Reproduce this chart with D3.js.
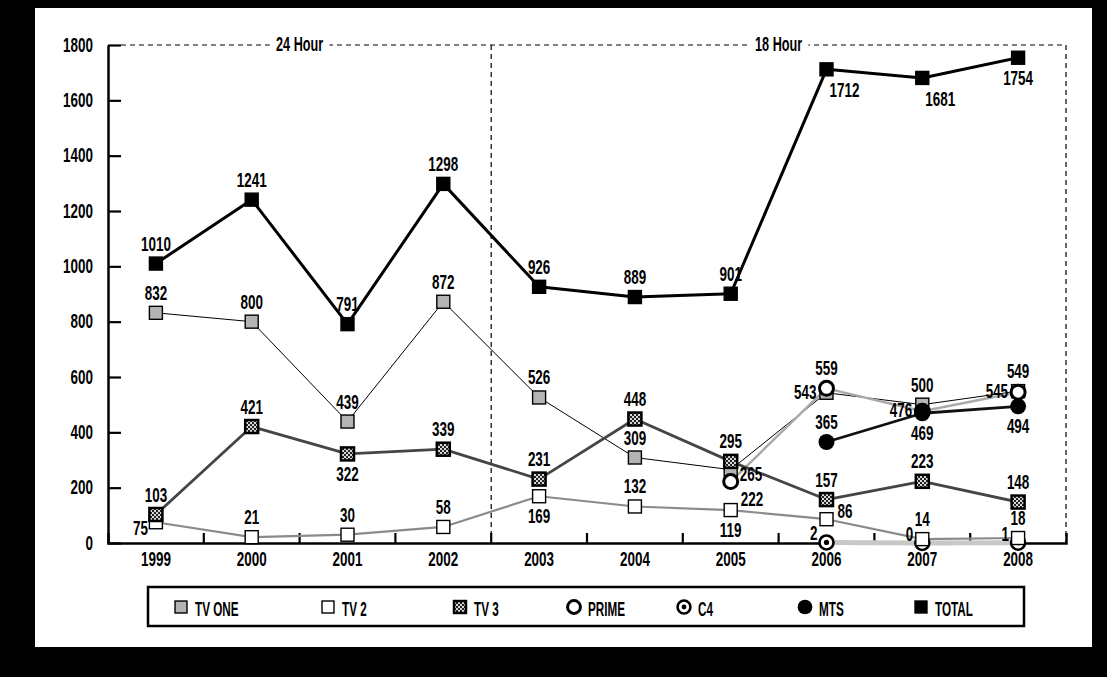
<!DOCTYPE html>
<html>
<head>
<meta charset="utf-8">
<script src="https://cdn.jsdelivr.net/npm/d3@7"></script>
<style>
  body { margin: 0; background: #000; }
  text { font-family: "Liberation Sans", Arial, sans-serif; font-weight: bold; }
</style>
</head>
<body>
<svg id="chart" width="1107" height="677"></svg>
<script>
// ---- Data
const years = ['1999', '2000', '2001', '2002', '2003', '2004', '2005', '2006', '2007', '2008'];
const tvOne = [832, 800, 439, 872, 526, 309, 265, 543, 500, 549];
const tv2 = [75, 21, 30, 58, 169, 132, 119, 86, 14, 18];
const tv3 = [103, 421, 322, 339, 231, 448, 295, 157, 223, 148];
const prime = [null, null, null, null, null, null, 222, 559, 476, 545];
const c4 = [null, null, null, null, null, null, null, 2, 0, 1];
const mts = [null, null, null, null, null, null, null, 365, 469, 494];
const total = [1010, 1241, 791, 1298, 926, 889, 901, 1712, 1681, 1754];
const yTicks = [0, 200, 400, 600, 800, 1000, 1200, 1400, 1600, 1800];
const periodNames = ['24 Hour', '18 Hour'];
const periodStart = ['1999', '2003'];
const periodEnd = ['2002', '2008'];

// ---- where each value label sits relative to its marker
const placeTotal = ['t', 't', 't', 't', 't', 't', 't', 'br', 'br', 'b'];
const placeTvOne = ['t', 't', 't', 't', 't', 't', 'r', 'l', 't', 't'];
const placeTv2 = ['bl', 't', 't', 't', 'b', 't', 'b', 'tr', 't', 't'];
const placeTv3 = ['t', 't', 'b', 't', 't', 't', 't', 't', 't', 't'];
const placePrime = [null, null, null, null, null, null, 'rb', 't', 'l', 'l'];
const placeC4 = [null, null, null, null, null, null, null, 'lz', 'lz', 'lz'];
const placeMts = [null, null, null, null, null, null, null, 't', 'b', 'b'];

const offsets = {
    t:  { anchor: 'middle', dx: 0, dy: -13 },
    b:  { anchor: 'middle', dx: 0, dy: 27 },
    br: { anchor: 'start', dx: 3, dy: 28 },
    l:  { anchor: 'end', dx: -10, dy: 6 },
    bl: { anchor: 'end', dx: -8, dy: 13 },
    r:  { anchor: 'start', dx: 9, dy: 11 },
    rb: { anchor: 'start', dx: 10, dy: 24 },
    tr: { anchor: 'start', dx: 11, dy: -1 },
    lz: { anchor: 'end', dx: -9, dy: -2 }
};

// condensed look: squeeze the glyphs horizontally
const SX_NUM = 0.69;
const SX_TXT = 0.6;
const FS = 19.5;
const svg = d3.select('#chart');

function label(g, px, py, txt, anchor, sx) {
    return g.append('text')
        .attr('transform', `translate(${px},${py}) scale(${sx || SX_NUM},1)`)
        .attr('text-anchor', anchor || 'start')
        .attr('font-size', FS)
        .text(txt);
}

// ---- frame
svg.append('rect').attr('width', 1107).attr('height', 677).attr('fill', '#000');
svg.append('rect').attr('x', 35).attr('y', 8).attr('width', 1057).attr('height', 639).attr('fill', '#fff');

// checker pattern for TV 3
const defs = svg.append('defs');
const pat = defs.append('pattern').attr('id', 'checker')
    .attr('patternUnits', 'userSpaceOnUse').attr('width', 4).attr('height', 4);
pat.append('rect').attr('width', 4).attr('height', 4).attr('fill', '#222');
pat.append('rect').attr('width', 2).attr('height', 2).attr('fill', '#d8d8d8');
pat.append('rect').attr('x', 2).attr('y', 2).attr('width', 2).attr('height', 2).attr('fill', '#d8d8d8');

// ---- scales
const x = d3.scaleBand().domain(years).range([108, 1066]).padding(0);
const y = d3.scaleLinear().domain([0, 1800]).range([543, 45]);
const cx = d => x(d) + x.bandwidth() / 2;

// ---- period boxes (dashed)
const dash = '5,4';
const yTop = y(1800);
const pg = svg.append('g');
pg.append('line')
    .attr('x1', 121).attr('x2', x.range()[1])
    .attr('y1', yTop).attr('y2', yTop)
    .attr('stroke', '#000').attr('stroke-width', 1.2).attr('stroke-dasharray', dash);
periodEnd.forEach(e => {
    const xe = x(e) + x.bandwidth();
    pg.append('line')
        .attr('x1', xe).attr('x2', xe).attr('y1', yTop).attr('y2', y(0))
        .attr('stroke', '#000').attr('stroke-width', 1.2).attr('stroke-dasharray', dash);
});
periodNames.forEach((name, i) => {
    const mid = (x(periodStart[i]) + x(periodEnd[i]) + x.bandwidth()) / 2;
    const t = label(pg, mid, yTop + 6, name, 'middle', 0.65);
    const w = t.node().getBBox().width * 0.65;
    pg.insert('rect', 'text')
        .attr('x', mid - w / 2 - 6).attr('y', yTop - 8).attr('width', w + 12).attr('height', 16)
        .attr('fill', '#fff');
});

// ---- axes
const yAxis = d3.axisLeft(y).tickValues(yTicks).tickFormat(d3.format('d'))
    .tickSize(-13).tickSizeOuter(0).tickPadding(15);
const gy = svg.append('g').attr('transform', `translate(${x.range()[0]},0)`).call(yAxis);
gy.attr('font-family', null);
gy.select('.domain').attr('stroke-width', 2.5);
gy.selectAll('.tick line').attr('stroke-width', 2.2);
gy.selectAll('.tick text')
    .attr('font-size', FS).attr('fill', '#000')
    .attr('x', -15 / SX_NUM)
    .attr('transform', `scale(${SX_NUM},1)`);

const xAxis = d3.axisBottom(x).tickSize(0).tickSizeOuter(-10).tickPadding(9);
const gx = svg.append('g').attr('transform', `translate(0,${y(0)})`).call(xAxis);
gx.attr('font-family', null);
gx.select('.domain').attr('stroke-width', 2.5);
gx.selectAll('.tick text')
    .attr('font-size', FS).attr('fill', '#000')
    .attr('transform', `scale(${SX_NUM},1)`);
gx.selectAll('line.sep')
    .data(years.slice(0, -1))
    .join('line')
    .attr('class', 'sep')
    .attr('x1', d => x(d) + x.bandwidth()).attr('x2', d => x(d) + x.bandwidth())
    .attr('y1', 0).attr('y2', -10)
    .attr('stroke', '#000').attr('stroke-width', 2.2);

// ---- series styles (drawing order)
const series = [
    { name: 'C4', values: c4, place: placeC4, stroke: '#c8c8c8', width: 5, marker: 'bull' },
    { name: 'TV 2', values: tv2, place: placeTv2, stroke: '#8a8a8a', width: 2.2, marker: 'square', fill: '#fff' },
    { name: 'TV ONE', values: tvOne, place: placeTvOne, stroke: '#000', width: 1, marker: 'square', fill: '#b4b4b4' },
    { name: 'PRIME', values: prime, place: placePrime, stroke: '#aaaaaa', width: 2.5, marker: 'circle' },
    { name: 'TV 3', values: tv3, place: placeTv3, stroke: '#454545', width: 2.8, marker: 'checker' },
    { name: 'MTS', values: mts, place: placeMts, stroke: '#111', width: 2.8, marker: 'dot' },
    { name: 'TOTAL', values: total, place: placeTotal, stroke: '#000', width: 3, marker: 'black' }
];

function drawMarker(g, s, px, py, k) {
    k = k || 1;
    const kind = s.marker;
    if (kind === 'square' || kind === 'checker' || kind === 'black') {
        const w = 13 * k;
        const fill = kind === 'checker' ? 'url(#checker)' : kind === 'black' ? '#000' : s.fill;
        g.append('rect')
            .attr('x', px - w / 2).attr('y', py - w / 2).attr('width', w).attr('height', w)
            .attr('fill', fill)
            .attr('stroke', '#000').attr('stroke-width', kind === 'checker' ? 2.5 : 1.4);
    } else if (kind === 'circle') {
        g.append('circle').attr('cx', px).attr('cy', py).attr('r', 7 * k)
            .attr('fill', '#fff').attr('stroke', '#000').attr('stroke-width', 3);
    } else if (kind === 'bull') {
        g.append('circle').attr('cx', px).attr('cy', py).attr('r', 7 * k)
            .attr('fill', '#fff').attr('stroke', '#000').attr('stroke-width', 2.6);
        g.append('circle').attr('cx', px).attr('cy', py).attr('r', 2.6 * k).attr('fill', '#000');
    } else if (kind === 'dot') {
        g.append('circle').attr('cx', px).attr('cy', py).attr('r', 8 * k).attr('fill', '#000');
    }
}

// lines first
const line = d3.line()
    .defined(d => d.v !== null)
    .x(d => cx(d.year))
    .y(d => y(d.v));

series.forEach(s => {
    const pts = years.map((yr, i) => ({ year: yr, v: s.values[i] }));
    svg.append('path')
        .datum(pts)
        .attr('d', line)
        .attr('fill', 'none')
        .attr('stroke', s.stroke)
        .attr('stroke-width', s.width)
        .attr('stroke-linejoin', 'round');
});

// markers
series.forEach(s => {
    const g = svg.append('g');
    years.forEach((yr, i) => {
        if (s.values[i] === null) return;
        drawMarker(g, s, cx(yr), y(s.values[i]));
    });
});

// value labels
const lg = svg.append('g');
series.forEach(s => {
    years.forEach((yr, i) => {
        if (s.values[i] === null) return;
        const o = offsets[s.place[i]];
        label(lg, cx(yr) + o.dx, y(s.values[i]) + o.dy, s.values[i], o.anchor);
    });
});

// ---- legend
const legendOrder = ['TV ONE', 'TV 2', 'TV 3', 'PRIME', 'C4', 'MTS', 'TOTAL'];
const legendX = [181, 328, 460, 574, 684, 805, 921];
svg.append('rect')
    .attr('x', 148).attr('y', 587).attr('width', 876).attr('height', 39)
    .attr('fill', '#fff').attr('stroke', '#000').attr('stroke-width', 2.5);
legendOrder.forEach((name, i) => {
    const s = series.find(d => d.name === name);
    const g = svg.append('g');
    drawMarker(g, s, legendX[i], 607, 0.92);
    label(g, legendX[i] + 14, 616, name, 'start', SX_TXT);
});
</script>
</body>
</html>
